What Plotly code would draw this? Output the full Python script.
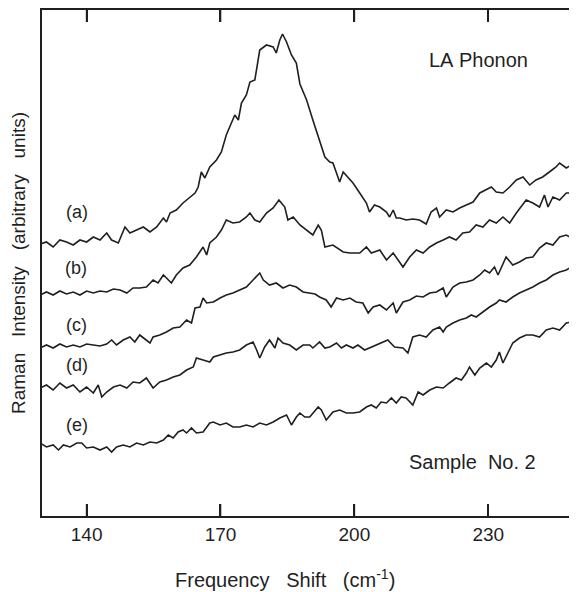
import plotly.graph_objects as go

# ---- data (x: frequency shift in cm-1, y: intensity, arbitrary units) ----
a_x = [129.6,131.0,132.5,134.0,135.5,137.0,138.5,140.0,141.5,143.0,144.5,145.6,147.1,148.6,149.7,151.2,152.7,154.2,155.7,157.2,157.9,158.7,160.1,161.6,163.1,164.3,165.0,165.7,166.5,167.6,169.1,170.2,171.3,172.5,173.2,174.0,174.7,175.8,176.6,177.7,178.8,180.3,181.8,182.5,183.3,183.9,184.8,185.9,187.0,187.8,189.3,190.7,192.2,193.4,194.5,195.2,196.0,196.7,197.5,198.6,199.7,201.2,202.7,203.4,204.5,205.7,207.2,207.9,208.7,209.4,210.2,211.6,213.1,214.6,216.1,217.2,218.4,219.1,220.6,222.1,223.6,225.1,226.6,228.1,229.6,230.7,231.8,233.3,234.8,236.3,237.8,239.3,240.7,242.2,243.7,245.2,246.0,247.5,248.6,249.7]
a_y = [272,274,269,276,274,271,276,274,279,276,283,276,273,289,283,286,289,284,289,298,294,303,306,313,319,323,329,344,338,349,356,364,381,393,401,396,413,421,434,436,466,471,469,463,476,482,474,461,453,432,416,396,376,359,354,353,343,334,344,339,333,323,313,304,311,309,304,299,306,298,298,296,297,296,292,304,308,299,306,304,308,311,314,323,326,329,324,323,329,336,339,331,336,339,344,349,353,348,351,349]

b_x = [129.6,131.0,132.5,134.0,135.5,137.0,138.5,140.0,141.5,143.0,144.5,146.0,147.5,149.0,150.4,151.9,153.4,154.9,156.0,157.2,157.9,159.0,160.1,161.6,163.1,164.6,166.1,166.9,167.6,169.1,170.2,171.3,172.8,174.3,175.8,176.6,177.7,178.8,180.3,181.8,183.1,184.4,185.1,186.3,187.8,189.3,190.7,191.9,192.6,193.4,195.2,197.5,199.0,201.2,202.7,203.8,205.7,207.2,208.7,210.9,212.4,213.9,215.4,216.9,218.4,219.9,221.3,222.8,224.3,225.8,227.3,228.8,230.3,231.8,233.3,234.8,236.3,238.5,240.0,241.5,242.6,243.4,244.5,246.0,247.5,249.7]
b_y = [221,224,221,225,222,224,221,225,223,225,224,227,226,223,228,228,229,236,233,241,238,233,241,248,251,259,269,261,273,279,286,296,293,294,299,303,296,294,303,308,316,309,296,299,291,286,281,291,286,269,271,264,263,263,269,263,266,256,263,249,259,266,263,269,273,276,279,276,283,284,291,289,296,293,299,293,303,316,313,309,321,309,319,316,323,323]

c_x = [129.6,131.0,132.5,134.0,135.5,137.0,138.5,140.0,141.5,143.0,144.5,145.6,146.7,148.2,149.7,150.8,151.9,153.4,154.2,154.9,156.4,157.9,159.4,160.9,162.4,163.5,164.3,165.4,166.1,166.9,168.4,169.9,171.3,172.8,174.3,175.8,177.3,178.8,179.6,181.0,182.5,184.0,185.5,187.0,188.5,190.0,191.2,192.2,193.7,194.8,196.0,197.5,199.0,200.4,201.9,203.1,204.2,205.7,207.2,208.7,209.4,210.9,212.4,213.9,215.4,216.9,218.4,219.9,220.6,222.1,223.6,225.1,226.6,228.1,229.2,230.3,231.4,232.2,233.3,234.0,235.5,237.0,238.5,240.0,241.5,243.0,244.5,246.0,247.5,248.6,249.7]
c_y = [168,171,168,172,169,171,169,172,171,170,172,176,171,176,179,174,181,176,173,179,181,184,188,189,196,193,208,209,218,213,214,218,221,223,226,229,236,243,236,231,233,228,231,229,224,223,222,219,216,209,218,216,218,214,213,203,209,211,206,213,203,214,216,220,219,223,224,228,219,229,233,234,236,241,246,243,249,241,253,259,251,254,258,259,268,273,271,279,281,278,276]

d_x = [129.6,131.0,132.5,134.0,135.5,137.0,138.5,140.0,141.5,142.6,143.4,144.5,146.0,147.5,149.0,150.4,151.9,153.4,154.9,156.4,157.9,159.4,160.9,162.4,163.9,164.6,166.1,167.6,168.4,169.9,171.3,172.8,174.3,175.8,177.3,178.1,178.8,179.9,181.0,182.2,182.9,184.0,185.5,187.0,188.5,190.0,190.7,192.2,193.4,194.5,196.0,197.1,198.2,199.7,200.8,202.3,203.8,205.7,207.5,209.0,210.9,212.0,213.1,214.6,216.1,217.6,219.1,219.9,220.6,222.1,223.6,225.1,226.2,227.3,228.8,230.3,231.8,232.5,234.0,235.5,237.0,238.5,240.0,241.5,243.0,244.5,246.0,247.5,248.6,249.7]
d_y = [128,131,126,133,128,131,124,129,123,131,119,124,129,131,128,134,133,138,128,134,136,139,141,146,149,158,156,154,159,161,163,164,166,171,174,166,158,169,176,168,178,173,171,166,171,171,168,174,168,169,173,168,171,168,171,166,169,173,176,169,168,163,179,181,179,186,189,184,189,193,196,198,201,199,204,209,213,216,214,219,223,226,229,233,236,241,244,246,249,251]

e_x = [129.6,131.0,132.5,133.7,134.8,136.3,137.8,138.9,140.0,141.5,143.0,144.5,145.6,146.7,148.2,149.7,151.2,152.7,154.2,155.7,157.2,158.3,159.4,160.5,161.6,162.4,163.5,164.6,166.1,167.6,168.4,169.9,171.3,172.8,174.3,175.8,177.3,178.8,180.3,181.8,183.3,184.8,185.9,187.0,187.8,188.9,190.0,191.9,192.6,193.7,195.2,196.7,198.2,199.7,201.2,202.7,203.8,204.9,206.0,207.2,208.3,209.4,210.5,211.6,213.1,214.3,215.4,216.9,218.4,219.9,221.3,222.8,224.0,225.1,225.8,227.0,228.1,229.6,230.7,231.8,232.5,233.3,234.4,235.5,237.0,238.5,240.0,241.5,243.0,244.5,246.0,247.5,248.6,249.7]
e_y = [73,69,71,66,71,69,73,73,68,69,66,69,64,69,71,69,73,71,74,73,76,81,78,84,86,83,88,83,84,93,94,91,93,89,89,91,89,93,91,94,98,101,91,99,103,99,99,109,106,96,104,106,103,103,104,109,111,108,114,113,118,113,119,118,111,124,121,126,129,128,133,138,136,143,149,141,148,153,149,156,164,153,163,173,178,181,181,179,186,188,186,193,194,199]

series = [(a_x, a_y), (b_x, b_y), (c_x, c_y), (d_x, d_y), (e_x, e_y)]

labels = ["(a)", "(b)", "(c)", "(d)", "(e)"]
label_x = [137.8, 137.6, 137.8, 137.8, 137.8]
label_y = [304, 248, 191, 151, 91]

x_ticks = [140, 170, 200, 230]

FONT = "Liberation Sans, Arial, Helvetica, sans-serif"
INK = "#1f1f1f"
SP = "\u00a0"
TICK_FRAC = 12 / 506  # tick length as a fraction of the plot height

fig = go.Figure()
for xs, ys in series:
    fig.add_trace(go.Scatter(x=xs, y=ys, mode="lines",
                             line=dict(color=INK, width=1.6),
                             showlegend=False, hoverinfo="skip"))

for t, lx, ly in zip(labels, label_x, label_y):
    fig.add_annotation(x=lx, y=ly, text=t, showarrow=False,
                       font=dict(size=18, color=INK, family=FONT))

fig.add_annotation(x=227.8, y=456, text="LA" + SP + "Phonon", showarrow=False,
                   font=dict(size=20, color=INK, family=FONT))
fig.add_annotation(x=226.5, y=54, text="Sample" + SP * 2 + "No." + SP + "2", showarrow=False,
                   font=dict(size=20, color=INK, family=FONT))

# x-axis title (sits slightly left of the plot centre in the reference)
fig.add_annotation(xref="paper", yref="paper", x=0.458, y=-0.152,
                   text="Frequency" + SP * 3 + "Shift" + SP * 3 + "(cm<sup>-1</sup>)",
                   showarrow=False, font=dict(size=20, color=INK, family=FONT))

# inward tick marks on the bottom and top frame at the tick values
for v in x_ticks:
    fig.add_shape(type="line", xref="x", yref="paper", x0=v, x1=v, y0=0, y1=TICK_FRAC,
                  line=dict(color=INK, width=1.6))
    fig.add_shape(type="line", xref="x", yref="paper", x0=v, x1=v, y0=1 - TICK_FRAC, y1=1,
                  line=dict(color=INK, width=1.6))

# the page body adds an 8px offset, so the figure is sized to fit the 577x592 window
fig.update_layout(
    width=569, height=584,
    margin=dict(l=34, r=4, t=2, b=76, autoexpand=False),
    paper_bgcolor="white", plot_bgcolor="white",
    font=dict(family=FONT, color=INK),
    xaxis=dict(
        range=[130, 249], tickmode="array", tickvals=x_ticks,
        ticktext=[str(v) for v in x_ticks],
        ticks="inside", ticklen=12, tickwidth=1.6, tickcolor=INK,
        showline=True, linewidth=2, linecolor=INK, mirror="allticks",
        showgrid=False, zeroline=False, automargin=False,
        tickfont=dict(size=19, color=INK, family=FONT),
    ),
    yaxis=dict(
        range=[0, 506], showticklabels=False, ticks="",
        showline=True, linewidth=2, linecolor=INK, mirror=True,
        showgrid=False, zeroline=False, automargin=False,
        title=dict(text="Raman" + SP * 3 + "Intensity" + SP * 3 + "(arbitrary" + SP * 3 + "units)",
                   font=dict(size=19, color=INK, family=FONT), standoff=10),
    ),
)

fig.write_html("out.html")
